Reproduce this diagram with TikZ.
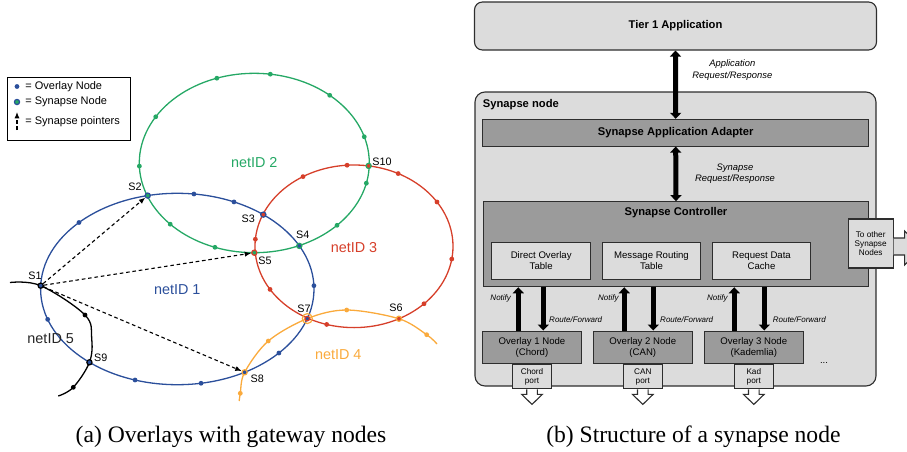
\documentclass[tikz,border=0pt]{standalone}
\usepackage{fontspec}
\setmainfont{Liberation Serif}
\newfontfamily\arialfont{Liberation Sans}
\usetikzlibrary{calc,positioning,arrows.meta}

\definecolor{netblue}{HTML}{2B4F9B}
\definecolor{netgreen}{HTML}{25A865}
\definecolor{netred}{HTML}{D63F2A}
\definecolor{netorange}{HTML}{FAAA3C}
\definecolor{lightbox}{HTML}{DCDCDC}
\definecolor{darkbox}{HTML}{9B9B9B}
\definecolor{boxline}{HTML}{2E2E2E}

\tikzstyle{netring}=[line width=0.65pt]
\tikzstyle{ovdot}=[circle, inner sep=0pt, minimum size=2.4pt]
\tikzstyle{syn}=[circle, inner sep=0pt, minimum size=2.6pt, line width=0.6pt]
\tikzstyle{synptr}=[line width=0.55pt, dash pattern=on 1.8pt off 1.4pt, -{Latex[length=3.2pt,width=2.6pt]}]
\tikzstyle{slabel}=[font=\arialfont\fontsize{5.4}{6}\selectfont, inner sep=0pt]
\tikzstyle{netlabel}=[font=\arialfont\fontsize{7.2}{8}\selectfont, inner sep=0pt]
\tikzstyle{legtext}=[font=\arialfont\fontsize{5.5}{6}\selectfont, inner sep=0pt, anchor=west]
\tikzstyle{panel}=[rectangle, rounded corners=4pt, draw=boxline, line width=0.55pt, fill=lightbox]
\tikzstyle{grayslab}=[rectangle, draw=boxline, line width=0.55pt, fill=darkbox, inner sep=0pt]
\tikzstyle{tab}=[rectangle, draw=boxline, line width=0.55pt, fill=lightbox, inner sep=0pt, align=center]
\tikzstyle{boldtxt}=[font=\arialfont\bfseries\fontsize{5.6}{6.7}\selectfont]
\tikzstyle{plaintxt}=[font=\arialfont\fontsize{4.8}{5.5}\selectfont, align=center]
\tikzstyle{tinytxt}=[font=\arialfont\fontsize{4.1}{4.6}\selectfont, align=center]
\tikzstyle{slant}=[font=\arialfont\itshape\fontsize{4.7}{5.7}\selectfont, align=center]
\tikzstyle{tinyslant}=[font=\arialfont\itshape\fontsize{4}{4.8}\selectfont, inner sep=0pt]
\tikzstyle{twoway}=[line width=2.5pt, {Triangle[length=3pt,width=5.5pt]}-{Triangle[length=3pt,width=5.5pt]}]
\tikzstyle{oneway}=[line width=2.5pt, -{Triangle[length=3pt,width=5.5pt]}]
\tikzstyle{portbox}=[tab, tinytxt, minimum width=19.3pt, minimum height=12.2pt]
\tikzstyle{outline}=[draw=boxline, line width=0.55pt, fill=white]

% overlay node with its port below
\newcommand{\overlaystack}[5]
{
  \node[grayslab, plaintxt, minimum width=49.7pt, minimum height=16.15pt](ov#1) at (#2,347.2){#3\\#4};
  \node[portbox, below=0pt of ov#1](port#1){#5\\port};
  \draw[outline] ([xshift=-2.65pt]port#1.south) -- ++(0,5) -- ++(-5,0) -- ++(10.3,10) -- ++(10.3,-10) -- ++(-5,0) -- ++(0,-5);
}

\begin{document}
\begin{tikzpicture}[x=0.5pt, y=-0.5pt]
	\useasboundingbox (0,0) rectangle (907,451);

	% (a) overlays
	\coordinate (c1) at (177.3,289);
	\coordinate (c2) at (254.3,163);
	\coordinate (c3) at (354,246.3);

	\coordinate (p1) at ($(c1)+(178:136.7 and -95.7)$);
	\coordinate (p2) at ($(c1)+(102.5:136.7 and -95.7)$);
	\coordinate (p3) at ($(c1)+(51:136.7 and -95.7)$);
	\coordinate (p4) at ($(c1)+(26.8:136.7 and -95.7)$);
	\coordinate (p5) at ($(c2)+(-90:115 and -89.7)$);
	\coordinate (p6) at ($(c3)+(-63:99 and -81.3)$);
	\coordinate (p7) at ($(c1)+(-18:136.7 and -95.7)$);
	\coordinate (p8) at ($(c1)+(-60.5:136.7 and -95.7)$);
	\coordinate (p9) at ($(c1)+(230:136.7 and -95.7)$);
	\coordinate (p10) at ($(c3)+(81.5:99 and -81.3)$);

	\draw[netring, netgreen] (c2) ellipse [x radius=115, y radius=89.7];
	\draw[netring, netblue] (c1) ellipse [x radius=136.7, y radius=95.7];
	\draw[netring, netred] (c3) ellipse [x radius=99, y radius=81.3];
	\draw[netring, netorange] plot[smooth, tension=0.55] coordinates {(239.2,401) (240.3,393.3) (p8) (268.3,341) (p7) (346.7,310) (p6) (426.7,334.7) (437,344)};
	\draw[netring, black] plot[smooth, tension=0.6] coordinates {(10,282.5) (p1) (85,315) (91.7,338.3) (p9) (73.3,387.3) (58.3,396)};

	\foreach \a in {109,82,49,17,-13,-44,-110,-137,182,149}
		\fill[netgreen] ($(c2)+(\a:115 and -89.7)$) circle[radius=1.2pt];
	\foreach \a in {136,83,65.5,2,-42,-80,-108,198.5}
		\fill[netblue] ($(c1)+(\a:136.7 and -95.7)$) circle[radius=1.2pt];
	\foreach \a in {121,94,63.5,33,-9,-45,-106,212,175}
		\fill[netred] ($(c3)+(\a:99 and -81.3)$) circle[radius=1.2pt];
	\foreach \p in {(240.3,393.3),(268.3,341),(346.7,310),(426.7,334.7)}
		\fill[netorange] \p circle[radius=1.2pt];
	\foreach \p in {(85,315),(73.3,387.3)}
		\fill[black] \p circle[radius=1.2pt];

	\draw[netorange, line width=0.6pt] (p7) circle[radius=2.5pt];
	\node[syn, fill=netblue, draw=black](s1) at (p1){};
	\node[syn, fill=netgreen, draw=netblue](s2) at (p2){};
	\node[syn, fill=netred, draw=netblue](s3) at (p3){};
	\node[syn, fill=netblue, draw=netgreen](s4) at (p4){};
	\node[syn, fill=netgreen, draw=netred](s5) at (p5){};
	\node[syn, fill=netred, draw=netorange](s6) at (p6){};
	\node[syn, fill=netblue, draw=netred, minimum size=2.3pt](s7) at (p7){};
	\node[syn, fill=netblue, draw=netorange](s8) at (p8){};
	\node[syn, fill=netblue, draw=black](s9) at (p9){};
	\node[syn, fill=netred, draw=netgreen](s10) at (p10){};

	\draw[synptr] (s1) -- (s2);
	\draw[synptr] (s1) -- (s5);
	\draw[synptr] (s1) -- (s8);

	\node[slabel](l1) at (35,276){S1};
	\node[slabel](l2) at (135,186.7){S2};
	\node[slabel](l3) at (248.3,219){S3};
	\node[slabel](l4) at (302.7,235){S4};
	\node[slabel](l5) at (265,260.3){S5};
	\node[slabel](l6) at (396,307.7){S6};
	\node[slabel](l7) at (304,308.7){S7};
	\node[slabel](l8) at (257.3,379){S8};
	\node[slabel](l9) at (100.7,357.7){S9};
	\node[slabel](l10) at (382,161.7){S10};

	\node[netlabel, text=netblue](net1) at (177.3,289.3){netID 1};
	\node[netlabel, text=netgreen](net2) at (254.3,162.7){netID 2};
	\node[netlabel, text=netred](net3) at (354,247.3){netID 3};
	\node[netlabel, text=netorange](net4) at (338.3,355){netID 4};
	\node[netlabel, text=black!85](net5) at (50.7,338.3){netID 5};

	% legend
	\node[draw, line width=0.6pt, minimum width=61.7pt, minimum height=31.7pt, inner sep=0pt](legend) at (69,109){};
	\node[ovdot, fill=netblue](legov) at (17,86.5){};
	\node[syn, fill=netgreen, draw=netblue](legsyn) at (17,102){};
	\coordinate (lega) at (17,130);
	\coordinate (legb) at (17,112);
	\draw[synptr] (lega) -- (legb);
	\node[legtext] at (25,86.5){= Overlay Node};
	\node[legtext] at (25,102){= Synapse Node};
	\node[legtext] at (25,122){= Synapse pointers};

	% (b) synapse node
	\node[panel, boldtxt, minimum width=201pt, minimum height=24pt](tier) at (675.5,26){Tier 1 Application};
	\node[panel, rounded corners=5pt, minimum width=200.5pt, minimum height=147pt](synnode) at (675.5,239){};
	\node[boldtxt, anchor=west, inner sep=0pt](syntitle) at (482.5,104.5){Synapse node};
	\node[grayslab, boldtxt, minimum width=193pt, minimum height=13.35pt](adapter) at (675.7,132.7){Synapse Application Adapter};
	\node[grayslab, minimum width=192.7pt, minimum height=42.5pt](ctrl) at (676,244.2){};
	\node[boldtxt](ctrltitle) at ($(ctrl.north)+(0,11.6)$){Synapse Controller};

	\node[tab, plaintxt, minimum width=49.5pt, minimum height=18.3pt](direct) at (541.2,261){Direct Overlay\\Table};
	\node[tab, plaintxt, minimum width=49.2pt, minimum height=18.3pt](routing) at (651.5,261){Message Routing\\Table};
	\node[tab, plaintxt, minimum width=49.2pt, minimum height=18.3pt](cache) at (761.5,261){Request Data\\Cache};

	\draw[twoway] (tier.south) -- (adapter.north);
	\node[slant](applbl) at (732.3,70){Application\\Request/Response};
	\draw[twoway] (adapter.south) -- (ctrl.north);
	\node[slant](synlbl) at (735,173.8){Synapse\\Request/Response};

	\overlaystack{1}{532}{Overlay 1 Node}{(Chord)}{Chord}
	\overlaystack{2}{642.8}{Overlay 2 Node}{(CAN)}{CAN}
	\overlaystack{3}{753.8}{Overlay 3 Node}{(Kademlia)}{Kad}

	\foreach \i/\nx/\rx in {1/-6.85pt/5.65pt, 2/-9.25pt/5.25pt, 3/-9.75pt/5.25pt}
	{
		\draw[oneway] ([xshift=\nx]ov\i.north) -- ([xshift=\nx]ov\i.north |- ctrl.south);
		\draw[oneway] ([xshift=\rx]ov\i.north |- ctrl.south) -- ([xshift=\rx]ov\i.north);
	}
	\foreach \x in {500.7,608.3,717.3}
		\node[tinyslant] at (\x,298.3){Notify};
	\foreach \x in {575.7,686.7,799.3}
		\node[tinyslant] at (\x,320){Route/Forward};
	\node[plaintxt](more) at (824,362.7){...};

	\node[tab, tinytxt, minimum width=22.35pt, minimum height=24.5pt](other) at (870.7,243.5){To other\\Synapse\\Nodes};
	\draw[outline, fill=lightbox] ([yshift=2.75pt]other.east) -- ++(11,0) -- ++(0,-7) -- ++(17,17) -- ++(-17,17) -- ++(0,-10) -- ++(-11,0);

	% captions
	\node[font=\fontsize{11.8}{14}\selectfont](capa) at (231,437){(a) Overlays with gateway nodes};
	\node[font=\fontsize{11.8}{14}\selectfont](capb) at (693.4,437){(b) Structure of a synapse node};

\end{tikzpicture}
\end{document}
